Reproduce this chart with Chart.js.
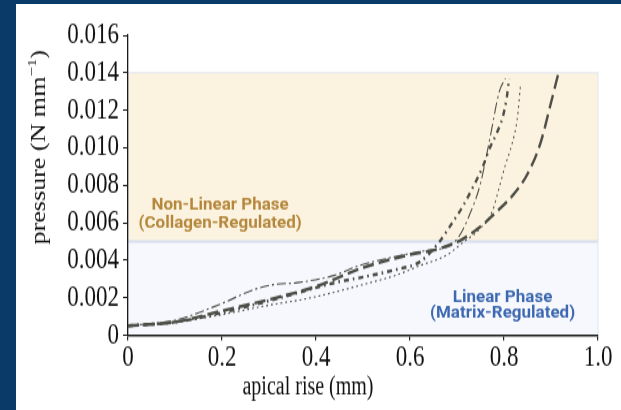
<!DOCTYPE html>
<html>
<head>
<meta charset="utf-8">
<script src="https://cdn.jsdelivr.net/npm/chart.js@4.4.0/dist/chart.umd.min.js"></script>
<style>
  html, body { margin: 0; padding: 0; }
  body { width: 621px; height: 410px; background: #0a3a68; position: relative; overflow: hidden; }
  #panel { position: absolute; left: 16px; top: 4px; width: 605px; height: 406px; background: #fff; overflow: hidden; }
  #wrap { position: absolute; left: 0; top: 0; width: 605px; height: 312px; transform: scaleY(1.30128); transform-origin: 0 0; }
  canvas { display: block; }
</style>
</head>
<body>
<div id="panel"><div id="wrap"><canvas id="chart" width="605" height="312"></canvas></div></div>
<script>
// Pressure vs apical rise, four specimens; the source figure is stretched vertically
const STRETCH = 406 / 312;

const xTicks = [0, 0.2, 0.4, 0.6, 0.8, 1.0];
const yTicks = [0, 0.002, 0.004, 0.006, 0.008, 0.010, 0.012, 0.014, 0.016];

// specimen A: long dash
const aX = [0, 0.1, 0.2, 0.3, 0.4, 0.5, 0.6, 0.66, 0.71, 0.75, 0.785, 0.82, 0.85, 0.877, 0.898, 0.915];
const aY = [0.0005, 0.0007, 0.0013, 0.0019, 0.0026, 0.0036, 0.0043, 0.0046, 0.0051, 0.0058, 0.0066, 0.0075, 0.0086, 0.0102, 0.0122, 0.0139];
// specimen B: bold dash-dot
const bX = [0, 0.1, 0.2, 0.31, 0.44, 0.5, 0.57, 0.62, 0.66, 0.69, 0.713, 0.734, 0.755, 0.77, 0.785, 0.798, 0.806, 0.811];
const bY = [0.0005, 0.0007, 0.0012, 0.0019, 0.0028, 0.0031, 0.0035, 0.0039, 0.0049, 0.0060, 0.0069, 0.0079, 0.0090, 0.0100, 0.0108, 0.0117, 0.0127, 0.0137];
// specimen C: thin dash-dot
const cX = [0, 0.1, 0.15, 0.206, 0.264, 0.31, 0.36, 0.44, 0.49, 0.57, 0.63, 0.685, 0.705, 0.728, 0.75, 0.77, 0.79, 0.803];
const cY = [0.0005, 0.0008, 0.0012, 0.00176, 0.0024, 0.0027, 0.0028, 0.0032, 0.0037, 0.0042, 0.0045, 0.0048, 0.0053, 0.0065, 0.0081, 0.0105, 0.0130, 0.0137];
// specimen D: thin dotted
const dX = [0, 0.1, 0.2, 0.3, 0.39, 0.5, 0.57, 0.62, 0.68, 0.71, 0.75, 0.775, 0.789, 0.802, 0.817, 0.828, 0.835];
const dY = [0.0005, 0.0007, 0.0011, 0.0016, 0.0020, 0.0027, 0.0032, 0.0037, 0.0043, 0.0049, 0.0057, 0.0066, 0.0078, 0.0090, 0.0102, 0.0115, 0.0133];

// phase bands (pressure values)
const phaseLimits = [0, 0.005, 0.014];

const notes = [
  { lines: ['Non-Linear Phase', '(Collagen-Regulated)'], x: 0.196, y: [0.0069, 0.00595], color: '#b5873c' },
  { lines: ['Linear Phase', '(Matrix-Regulated)'], x: 0.797, y: [0.00203, 0.00117], color: '#3c68b1' }
];

const lineColor = '#4e4e49';
const serif = '"Liberation Serif", "Times New Roman", serif';

function pts(xs, ys) { return xs.map((v, i) => ({ x: v, y: ys[i] })); }

const phasePlugin = {
  id: 'phases',
  beforeDraw(chart) {
    const { ctx, scales: { x, y } } = chart;
    const x0 = x.getPixelForValue(0), x1 = x.getPixelForValue(1);
    const yLo = y.getPixelForValue(phaseLimits[0]);
    const yMid = y.getPixelForValue(phaseLimits[1]);
    const yHi = y.getPixelForValue(phaseLimits[2]);
    ctx.save();
    ctx.fillStyle = '#f7f8fd';
    ctx.fillRect(x0, yMid, x1 - x0, yLo - yMid);
    ctx.fillStyle = '#fbf3df';
    ctx.fillRect(x0, yHi, x1 - x0, yMid - yHi);
    ctx.strokeStyle = '#dfe5f2';
    ctx.lineWidth = 1;
    ctx.strokeRect(x0, yHi, x1 - x0, yLo - yHi);
    ctx.strokeStyle = '#d7deee';
    ctx.lineWidth = 2;
    ctx.beginPath();
    ctx.moveTo(x0, yMid);
    ctx.lineTo(x1, yMid);
    ctx.stroke();
    ctx.restore();
  },
  afterDraw(chart) {
    const { ctx, scales: { x, y } } = chart;
    ctx.save();
    // phase notes are upright text, not stretched
    ctx.font = 'bold 17px Roboto';
    ctx.textAlign = 'center';
    ctx.textBaseline = 'middle';
    notes.forEach(n => {
      ctx.fillStyle = n.color;
      n.lines.forEach((t, i) => {
        ctx.save();
        ctx.translate(x.getPixelForValue(n.x), y.getPixelForValue(n.y[i]));
        ctx.scale(1, 1 / STRETCH);
        ctx.fillText(t, 0, 0);
        ctx.restore();
      });
    });

    // axis titles
    ctx.fillStyle = '#111';
    ctx.font = '20px ' + serif;
    ctx.textAlign = 'center';
    ctx.textBaseline = 'middle';
    ctx.fillText('apical rise (mm)', 292, 295);

    ctx.translate(24, 110);
    ctx.rotate(-Math.PI / 2);
    const main = 'pressure (N mm';
    ctx.font = '20px ' + serif;
    const wMain = ctx.measureText(main).width;
    ctx.font = '13px ' + serif;
    const wSup = ctx.measureText('\u22121').width;
    ctx.font = '20px ' + serif;
    const wClose = ctx.measureText(')').width;
    let cx = -(wMain + wSup + wClose) / 2;
    ctx.textAlign = 'left';
    ctx.fillText(main, cx, 0);
    cx += wMain;
    ctx.font = '13px ' + serif;
    ctx.fillText('\u22121', cx, -7);
    cx += wSup;
    ctx.font = '20px ' + serif;
    ctx.fillText(')', cx, 0);
    ctx.restore();
  }
};

new Chart(document.getElementById('chart'), {
  type: 'line',
  data: {
    datasets: [
      { data: pts(aX, aY), borderColor: lineColor, borderWidth: 2.4, borderDash: [11, 5] },
      { data: pts(bX, bY), borderColor: lineColor, borderWidth: 2.4, borderDash: [5, 4, 1.6, 4] },
      { data: pts(cX, cY), borderColor: lineColor, borderWidth: 1.1, borderDash: [9, 3, 2, 3] },
      { data: pts(dX, dY), borderColor: lineColor, borderWidth: 1.1, borderDash: [1.8, 3] }
    ]
  },
  options: {
    responsive: false,
    animation: false,
    devicePixelRatio: 1,
    layout: { padding: { left: 0, right: 23, top: 24, bottom: 0 } },
    elements: {
      point: { radius: 0 },
      line: { cubicInterpolationMode: 'monotone', fill: false, borderCapStyle: 'butt' }
    },
    plugins: { legend: { display: false }, tooltip: { enabled: false } },
    scales: {
      x: {
        type: 'linear',
        min: 0,
        max: 1,
        afterBuildTicks: s => { s.ticks = xTicks.map(v => ({ value: v })); },
        afterFit: s => { s.height = 312 - 254.5; },
        ticks: {
          color: '#111',
          padding: 0,
          autoSkip: false,
          maxRotation: 0,
          font: { family: serif, size: 23 },
          callback: v => (v === 0 ? '0' : v.toFixed(1))
        },
        grid: { drawOnChartArea: false, drawTicks: true, tickLength: 4, color: '#1a1a1a', lineWidth: 1.2 },
        border: { display: true, color: '#1a1a1a', width: 1.5 }
      },
      y: {
        type: 'linear',
        min: 0,
        max: 0.016,
        afterBuildTicks: s => { s.ticks = yTicks.map(v => ({ value: v })); },
        afterFit: s => { s.width = 112; },
        ticks: {
          color: '#111',
          padding: 4,
          autoSkip: false,
          font: { family: serif, size: 23 },
          callback: v => (v === 0 ? '0' : v.toFixed(3))
        },
        grid: { drawOnChartArea: false, drawTicks: true, tickLength: 5, color: '#1a1a1a', lineWidth: 1 },
        border: { display: true, color: '#1a1a1a', width: 1.3 }
      }
    }
  },
  plugins: [phasePlugin]
});
</script>
</body>
</html>
